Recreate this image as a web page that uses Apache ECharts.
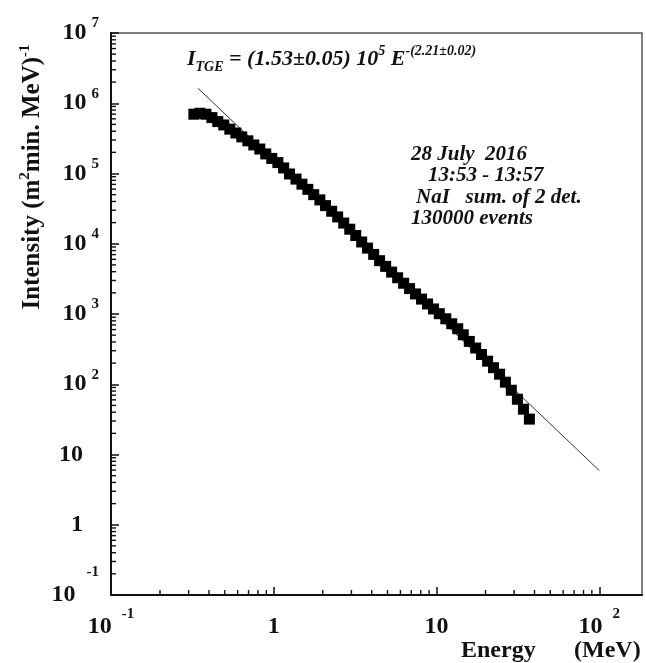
<!DOCTYPE html>
<html><head><meta charset="utf-8">
<script src="https://cdn.jsdelivr.net/npm/echarts@6/dist/echarts.min.js"></script>
<style>html,body{margin:0;padding:0;background:#fff}#c{width:646px;height:663px}</style>
</head><body><div id="c"></div>
<script>
// Measured spectrum (Energy in MeV, Intensity in (m^2 min MeV)^-1)
const energy = [0.323,0.352,0.383,0.417,0.453,0.493,0.537,0.585,0.636,0.693,0.754,0.821,0.893,0.972,1.06,1.15,1.25,1.37,1.49,1.62,1.76,1.92,2.08,2.27,2.47,2.69,2.93,3.19,3.47,3.77,4.11,4.47,4.87,5.30,5.77,6.28,6.83,7.43,8.09,8.81,9.59,10.4,11.4,12.4,13.5,14.6,15.9,17.4,18.9,20.6,22.4,24.4,26.5,28.8,31.4,34.2,37.2];
const intensity = [6.98e5,7.21e5,6.98e5,6.25e5,5.48e5,4.91e5,4.28e5,3.77e5,3.32e5,2.92e5,2.55e5,2.23e5,1.90e5,1.64e5,1.43e5,1.20e5,9.84e4,8.33e4,7.05e4,5.95e4,5.00e4,4.21e4,3.49e4,2.90e4,2.41e4,1.97e4,1.61e4,1.31e4,1.06e4,8.67e3,7.05e3,5.74e3,4.76e3,3.95e3,3.28e3,2.74e3,2.30e3,1.93e3,1.63e3,1.39e3,1.18e3,1.01e3,855,726,617,506,407,328,265,213,172,139,107,82.2,61.2,44.2,31.9];
// Power-law fit endpoints
const fitEnergy = [0.342, 100];
const fitIntensity = [1.64e6, 5.9];
// Axes
const xRange = [0.1, 183];
const yRange = [0.1, 1e7];
const xTickExp = [-1, 0, 1, 2];
const xTickBase = ['10', '1', '10', '10'];
const xTickSup = ['-1', '', '', '2'];
const yTickExp = [-1, 0, 1, 2, 3, 4, 5, 6, 7];
const yTickBase = ['10', '1', '10', '10', '10', '10', '10', '10', '10'];
const yTickSup = ['-1', '', '', '2', '3', '4', '5', '6', '7'];
const minorMult = [2, 3, 4, 5, 6, 7, 8, 9];
const xMinorDecades = [0.1, 1, 10, 100];
const yMinorDecades = [0.1, 1, 10, 100, 1e3, 1e4, 1e5, 1e6];
// Texts
const equationText = '{i|I}{sub|TGE}{i| = (1.53\u00b10.05) 10}{sup|5}{i| E}{sup|-(2.21\u00b10.02)}';
const annotLines = ['28 July  2016', '13:53 - 13:57', 'NaI   sum. of 2 det.', '130000 events'];
const yTitle = '{b|Intensity (m}{s|2}{b|min. MeV)}{s|-1}';
const xTitleA = 'Energy';
const xTitleB = '(MeV)';

const SERIF = '"Liberation Serif", "Times New Roman", serif';
const xMinor = [], yMinor = [];
xMinorDecades.forEach(d => minorMult.forEach(m => { const v = d * m; if (v < xRange[1]) xMinor.push([v, yRange[0]]); }));
yMinorDecades.forEach(d => minorMult.forEach(m => { const v = d * m; if (v < yRange[1]) yMinor.push([xRange[0], v]); }));

function expOf(v) { return Math.round(Math.log10(v)); }
function xLabel(v) {
  const i = xTickExp.indexOf(expOf(v));
  if (i < 0) return '';
  return xTickSup[i] ? '{b|' + xTickBase[i] + '}{s|' + xTickSup[i] + '}' : '{b|' + xTickBase[i] + '}';
}
function yLabel(v) {
  const e = expOf(v);
  const i = yTickExp.indexOf(e);
  if (i < 0) return '';
  if (e === -1) return '{b3|' + yTickBase[i] + '}{s3|' + yTickSup[i] + '}';
  return yTickSup[i] ? '{b|' + yTickBase[i] + '}{s|' + yTickSup[i] + '}' : '{b|' + yTickBase[i] + '}{pad|}';
}

const chart = echarts.init(document.getElementById('c'), null, {renderer: 'canvas'});
const tickRender = (dir) => function (params, api) {
  const p = api.coord([api.value(0), api.value(1)]);
  const shape = dir === 'x' ? {x1: p[0], y1: p[1], x2: p[0], y2: p[1] - 5} : {x1: p[0], y1: p[1], x2: p[0] + 5, y2: p[1]};
  return {type: 'line', shape, style: {stroke: '#111', lineWidth: 1.4}};
};
const boldLbl = {fontFamily: SERIF, fontWeight: 'bold', color: '#111'};

chart.setOption({
  backgroundColor: '#fff',
  animation: false,
  grid: {left: 111, right: 4, top: 33, bottom: 68, show: true, borderColor: '#555', borderWidth: 1.5, backgroundColor: 'transparent'},
  xAxis: {
    type: 'log', logBase: 10, min: xRange[0], max: xRange[1], splitNumber: 3,
    axisLine: {lineStyle: {color: '#111', width: 2}},
    axisTick: {inside: true, length: 8, lineStyle: {color: '#111', width: 1.5}},
    splitLine: {show: false}, minorTick: {show: false},
    axisLabel: {
      margin: 12, showMaxLabel: false, formatter: xLabel,
      rich: {
        b: Object.assign({fontSize: 24, lineHeight: 40}, boldLbl),
        s: Object.assign({fontSize: 15, lineHeight: 15, verticalAlign: 'top', padding: [0, 0, 0, 10]}, boldLbl)
      }
    }
  },
  yAxis: {
    type: 'log', logBase: 10, min: yRange[0], max: yRange[1], splitNumber: 8,
    axisLine: {lineStyle: {color: '#111', width: 2}},
    axisTick: {inside: true, length: 8, lineStyle: {color: '#111', width: 1.5}},
    splitLine: {show: false}, minorTick: {show: false},
    axisLabel: {
      margin: 12, formatter: yLabel,
      rich: {
        b: Object.assign({fontSize: 24, lineHeight: 34}, boldLbl),
        s: Object.assign({fontSize: 15, lineHeight: 15, verticalAlign: 'top', padding: [0, 0, 0, 5]}, boldLbl),
        pad: {width: 16, lineHeight: 34},
        b3: Object.assign({fontSize: 24, lineHeight: 60}, boldLbl),
        s3: Object.assign({fontSize: 15, lineHeight: 15, verticalAlign: 'top', padding: [0, 0, 0, 11]}, boldLbl)
      }
    }
  },
  series: [
    {
      type: 'line', data: fitEnergy.map((e, i) => [e, fitIntensity[i]]),
      symbol: 'none', lineStyle: {color: '#333', width: 1}, z: 1, silent: true
    },
    {
      type: 'scatter', data: energy.map((e, i) => [e, intensity[i]]),
      symbol: 'rect', symbolSize: 11, itemStyle: {color: '#000', opacity: 1}, z: 2, silent: true
    },
    {type: 'custom', coordinateSystem: 'cartesian2d', data: xMinor, renderItem: tickRender('x'), clip: false, silent: true, z: 3},
    {type: 'custom', coordinateSystem: 'cartesian2d', data: yMinor, renderItem: tickRender('y'), clip: false, silent: true, z: 3}
  ],
  graphic: [
    {
      type: 'text', left: 187, top: 44,
      style: {
        text: equationText, fill: '#111',
        rich: {
          i: {fontFamily: SERIF, fontWeight: 'bold', fontStyle: 'italic', fontSize: 22, lineHeight: 30, fill: '#111'},
          sub: {fontFamily: SERIF, fontWeight: 'bold', fontStyle: 'italic', fontSize: 14, lineHeight: 13, verticalAlign: 'bottom', fill: '#111'},
          sup: {fontFamily: SERIF, fontWeight: 'bold', fontStyle: 'italic', fontSize: 14, lineHeight: 13, verticalAlign: 'top', fill: '#111'}
        }
      }
    },
    {type: 'text', left: 411, top: 144, style: {text: annotLines[0], fill: '#111', font: 'italic bold 21px ' + SERIF}},
    {type: 'text', left: 428, top: 165, style: {text: annotLines[1], fill: '#111', font: 'italic bold 21px ' + SERIF}},
    {type: 'text', left: 416, top: 187, style: {text: annotLines[2], fill: '#111', font: 'italic bold 21px ' + SERIF}},
    {type: 'text', left: 411, top: 208, style: {text: annotLines[3], fill: '#111', font: 'italic bold 21px ' + SERIF}},
    {type: 'text', left: 461, top: 639, style: {text: xTitleA, fill: '#111', font: 'bold 24px ' + SERIF}},
    {type: 'text', left: 574, top: 639, style: {text: xTitleB, fill: '#111', font: 'bold 24px ' + SERIF}},
    {
      type: 'text', x: 33, y: 177, rotation: Math.PI / 2,
      style: {
        text: yTitle, align: 'center', verticalAlign: 'middle', textAlign: 'center', textVerticalAlign: 'middle', fill: '#111',
        rich: {
          b: {fontFamily: SERIF, fontWeight: 'bold', fontSize: 25, lineHeight: 30, fill: '#111'},
          s: {fontFamily: SERIF, fontWeight: 'bold', fontSize: 15, lineHeight: 15, verticalAlign: 'top', fill: '#111'}
        }
      }
    }
  ]
});
</script>
</body></html>
